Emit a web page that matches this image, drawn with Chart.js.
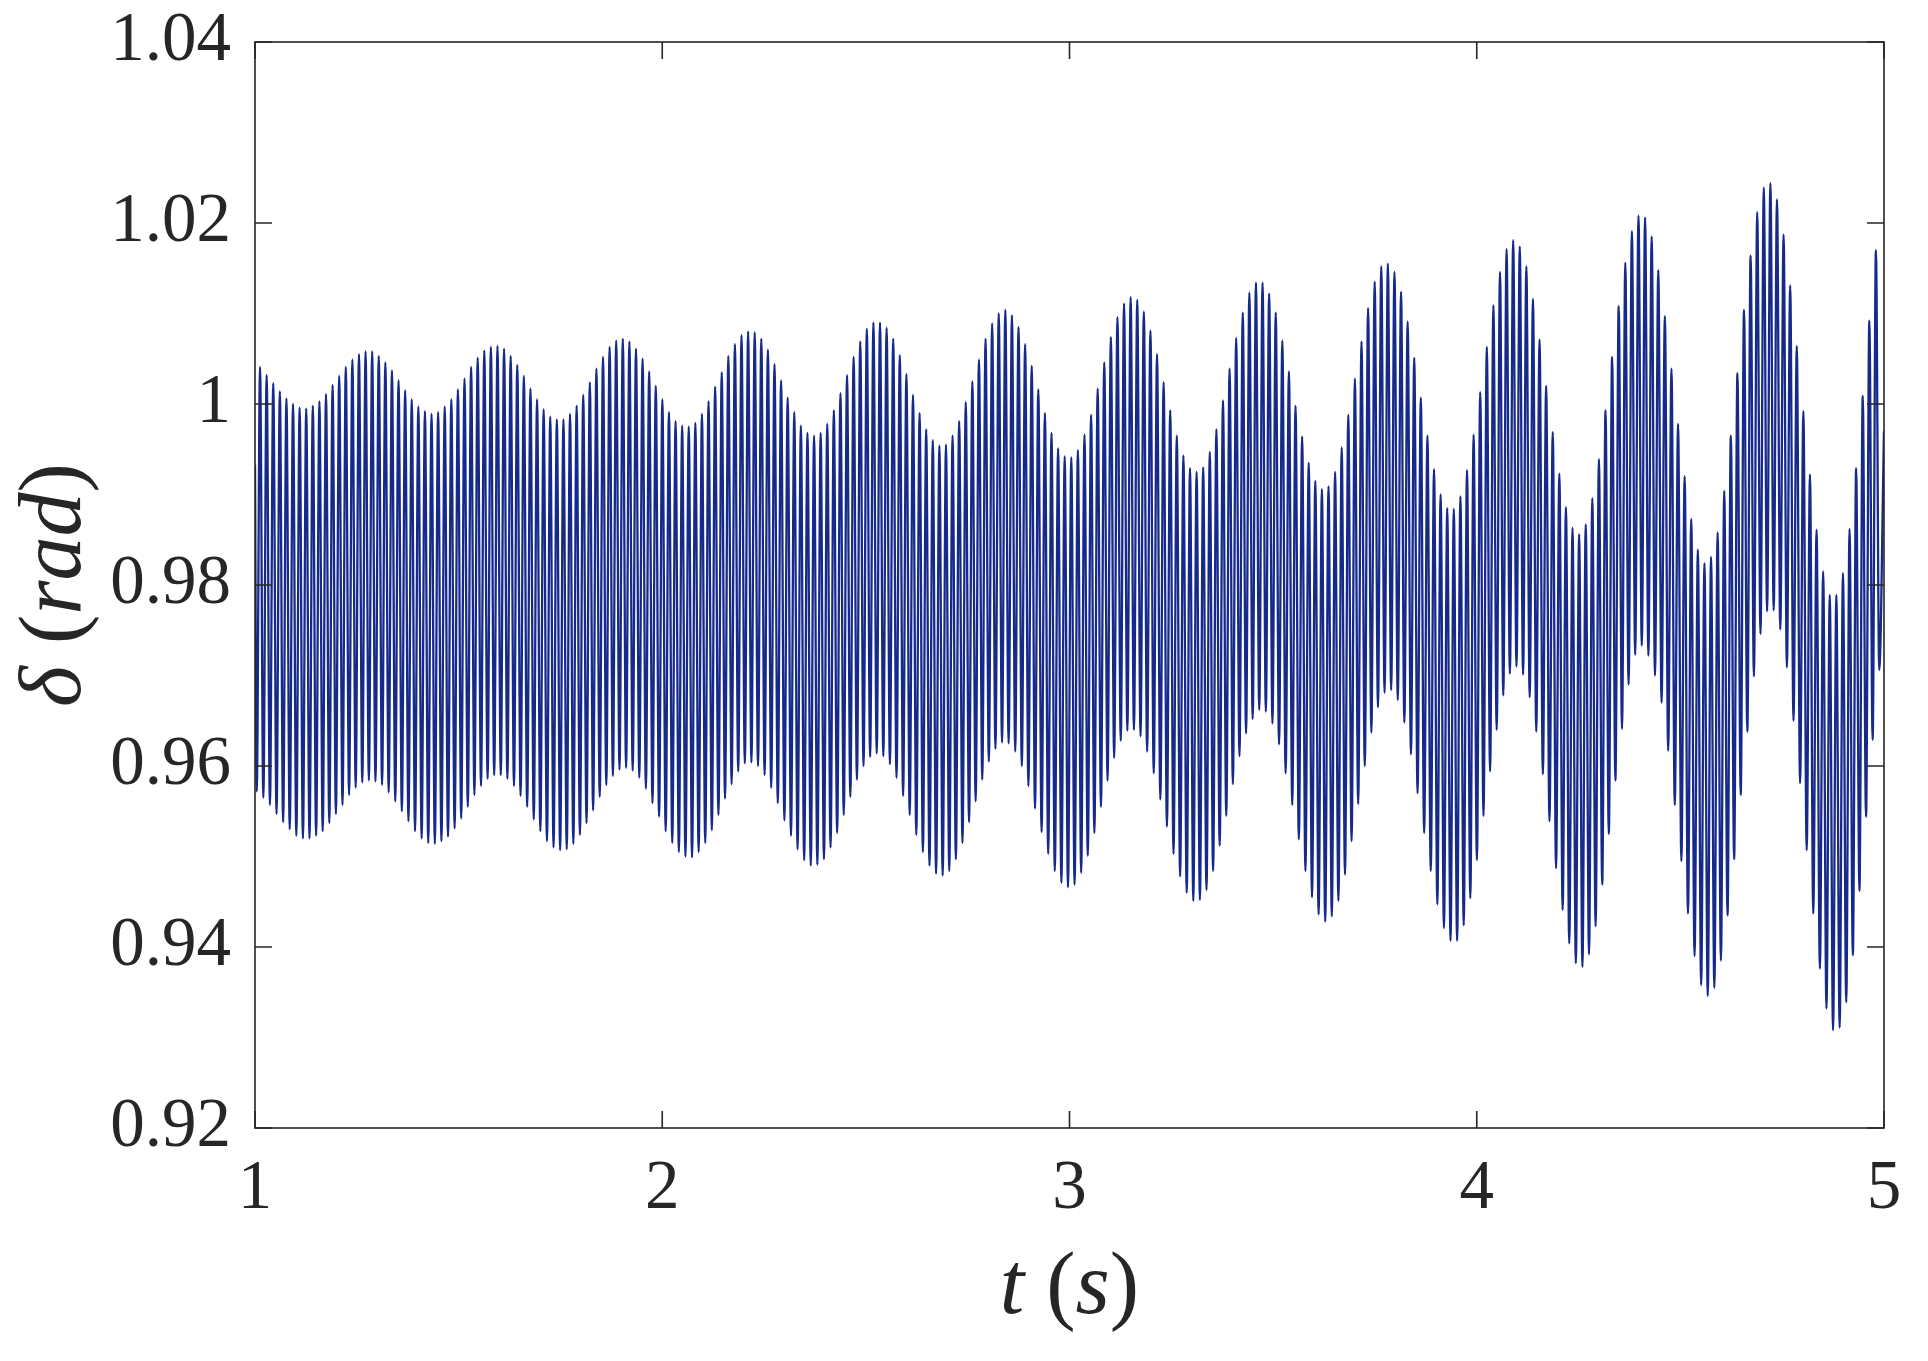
<!DOCTYPE html>
<html lang="en">
<head>
    <meta charset="UTF-8">
    <title>Rotor angle</title>
    <style>
        body { margin: 0; background: #FFFFFF; }
        #wrap { width: 1928px; height: 1361px; }
        canvas { display: block; }
    </style>
    <script src="https://cdn.jsdelivr.net/npm/chart.js"></script>
</head>
<body>
    <div id="wrap"><canvas id="deltaChart" width="1928" height="1361"></canvas></div>

    <script>
        // Time axis (s) and the regular sampling of the fast swing
        const startTime = 1.0;
        const endTime = 5.0;
        const firstTroughTime = 1.0043;
        const firstPeakTime = 1.0124;
        const cycle = 0.016195;
        const startValue = 0.9933;
        const endValue = 0.9970;

        // Delta (rad) at each local maximum
        const peakValues = [
            1.0041, 1.0032, 1.0023, 1.0014, 1.0006, 1.0000, 0.9996, 0.9995, 0.9998, 1.0003,
            1.0011, 1.0021, 1.0031, 1.0041, 1.0049, 1.0055, 1.0058, 1.0058, 1.0053, 1.0046,
            1.0037, 1.0026, 1.0015, 1.0005, 0.9997, 0.9992, 0.9989, 0.9991, 0.9997, 1.0005,
            1.0016, 1.0028, 1.0041, 1.0051, 1.0059, 1.0063, 1.0064, 1.0061, 1.0053, 1.0043,
            1.0031, 1.0017, 1.0005, 0.9994, 0.9986, 0.9983, 0.9983, 0.9989, 0.9998, 1.0010,
            1.0024, 1.0039, 1.0052, 1.0063, 1.0070, 1.0072, 1.0069, 1.0061, 1.0050, 1.0036,
            1.0020, 1.0005, 0.9991, 0.9981, 0.9976, 0.9975, 0.9979, 0.9989, 1.0003, 1.0019,
            1.0035, 1.0053, 1.0066, 1.0076, 1.0080,
            1.0079, 1.0072, 1.0060, 1.0044, 1.0026, 1.0007, 0.9991, 0.9976, 0.9968, 0.9965,
            0.9968, 0.9978, 0.9993, 1.0012, 1.0032, 1.0052, 1.0069, 1.0083, 1.0090, 1.0090,
            1.0084, 1.0072, 1.0054, 1.0033, 1.0010, 0.9990, 0.9972, 0.9960, 0.9954, 0.9955,
            0.9965, 0.9981, 1.0002, 1.0025, 1.0049, 1.0072, 1.0089, 1.0100, 1.0104, 1.0098,
            1.0085, 1.0066, 1.0042, 1.0016, 0.9990, 0.9968, 0.9951, 0.9942, 0.9941, 0.9949,
            0.9966, 0.9988, 1.0017, 1.0046, 1.0074, 1.0096, 1.0111, 1.0118, 1.0115, 1.0102,
            1.0081, 1.0055, 1.0024, 0.9993, 0.9965, 0.9943, 0.9929, 0.9925, 0.9930, 0.9947,
            0.9972, 1.0004, 1.0039, 1.0073, 1.0101, 1.0123,
            1.0134, 1.0134, 1.0122, 1.0101, 1.0070, 1.0036, 0.9998, 0.9964, 0.9935, 0.9915,
            0.9906, 0.9909, 0.9925, 0.9952, 0.9988, 1.0028, 1.0069, 1.0106, 1.0135, 1.0152,
            1.0155, 1.0146, 1.0124, 1.0091, 1.0051, 1.0007, 0.9965, 0.9928, 0.9900, 0.9885,
            0.9884, 0.9898, 0.9927, 0.9966, 1.0013, 1.0063, 1.0109, 1.0146, 1.0171, 1.0181,
            1.0174, 1.0152, 1.0116, 1.0071, 1.0020, 0.9969, 0.9923, 0.9886, 0.9863, 0.9856,
            0.9867, 0.9896, 0.9939, 0.9993, 1.0052, 1.0108, 1.0156, 1.0191, 1.0208, 1.0206,
            1.0185, 1.0148, 1.0097, 1.0039, 0.9978, 0.9920, 0.9873, 0.9839, 0.9824, 0.9831,
            0.9858, 0.9904, 0.9965, 1.0034, 1.0104,
            1.0164, 1.0212, 1.0239, 1.0244, 1.0226, 1.0187, 1.0131, 1.0064, 0.9992, 0.9922,
            0.9861, 0.9815, 0.9789, 0.9789, 0.9813, 0.9862, 0.9929, 1.0009, 1.0092, 1.0170
        ];

        // Delta (rad) at each local minimum
        const troughValues = [
            0.9572, 0.9565, 0.9557, 0.9547, 0.9538, 0.9530, 0.9523, 0.9520, 0.9520, 0.9523,
            0.9528, 0.9537, 0.9547, 0.9557, 0.9568, 0.9576, 0.9582, 0.9584, 0.9583, 0.9579,
            0.9571, 0.9561, 0.9550, 0.9539, 0.9528, 0.9520, 0.9515, 0.9514, 0.9517, 0.9522,
            0.9531, 0.9542, 0.9555, 0.9568, 0.9578, 0.9586, 0.9590, 0.9590, 0.9586, 0.9578,
            0.9567, 0.9555, 0.9541, 0.9528, 0.9517, 0.9510, 0.9507, 0.9508, 0.9514, 0.9524,
            0.9537, 0.9551, 0.9566, 0.9579, 0.9589, 0.9596, 0.9598, 0.9595, 0.9587, 0.9575,
            0.9559, 0.9544, 0.9528, 0.9515, 0.9505, 0.9500, 0.9499, 0.9505, 0.9515, 0.9529,
            0.9546, 0.9564, 0.9580, 0.9594, 0.9603,
            0.9604, 0.9600, 0.9590, 0.9576, 0.9559, 0.9540, 0.9523, 0.9508, 0.9496, 0.9490,
            0.9491, 0.9497, 0.9510, 0.9526, 0.9546, 0.9566, 0.9585, 0.9600, 0.9610, 0.9614,
            0.9611, 0.9602, 0.9587, 0.9567, 0.9546, 0.9524, 0.9505, 0.9490, 0.9481, 0.9479,
            0.9484, 0.9497, 0.9515, 0.9538, 0.9561, 0.9585, 0.9605, 0.9619, 0.9626, 0.9625,
            0.9616, 0.9600, 0.9578, 0.9553, 0.9527, 0.9503, 0.9484, 0.9471, 0.9466, 0.9469,
            0.9482, 0.9501, 0.9526, 0.9555, 0.9584, 0.9609, 0.9628, 0.9639, 0.9640, 0.9633,
            0.9616, 0.9592, 0.9563, 0.9533, 0.9503, 0.9478, 0.9460, 0.9451, 0.9452, 0.9463,
            0.9484, 0.9512, 0.9545, 0.9580, 0.9611, 0.9636,
            0.9652, 0.9662, 0.9660, 0.9647, 0.9624, 0.9592, 0.9557, 0.9519, 0.9484, 0.9455,
            0.9436, 0.9428, 0.9434, 0.9451, 0.9480, 0.9517, 0.9558, 0.9600, 0.9637, 0.9665,
            0.9681, 0.9684, 0.9673, 0.9648, 0.9613, 0.9570, 0.9526, 0.9484, 0.9447, 0.9421,
            0.9407, 0.9407, 0.9424, 0.9454, 0.9496, 0.9545, 0.9594, 0.9640, 0.9678, 0.9702,
            0.9710, 0.9701, 0.9676, 0.9638, 0.9591, 0.9539, 0.9487, 0.9441, 0.9404, 0.9382,
            0.9378, 0.9392, 0.9423, 0.9469, 0.9525, 0.9584, 0.9641, 0.9690, 0.9723, 0.9733,
            0.9722, 0.9700, 0.9670, 0.9617, 0.9557, 0.9495, 0.9437, 0.9390, 0.9358, 0.9346,
            0.9355, 0.9385, 0.9435, 0.9497, 0.9568, 0.9638,
            0.9699, 0.9746, 0.9771, 0.9772, 0.9751, 0.9709, 0.9650, 0.9581, 0.9507, 0.9437,
            0.9376, 0.9332, 0.9308, 0.9311, 0.9339, 0.9391, 0.9462, 0.9544, 0.9629, 0.9706
        ];

        // Tick values and labels
        const xTickValues = [1, 2, 3, 4, 5];
        const xTickLabels = ["1", "2", "3", "4", "5"];
        const yTickValues = [0.92, 0.94, 0.96, 0.98, 1.00, 1.02, 1.04];
        const yTickLabels = ["0.92", "0.94", "0.96", "0.98", "1", "1.02", "1.04"];

        const lineColor = "rgb(22, 42, 140)";
        const axisColor = "#262626";
        const fontFamily = '"Liberation Serif", "Times New Roman", serif';

        // Build the point table: trough, peak, trough, peak ...
        const points = [{ x: startTime, y: startValue }];
        troughValues.forEach((v, i) => {
            points.push({ x: firstTroughTime + i * cycle, y: v });
            if (i < peakValues.length) {
                points.push({ x: firstPeakTime + i * cycle, y: peakValues[i] });
            }
        });
        points.push({ x: endTime, y: endValue });

        // Box around the axes with inward ticks on all four sides
        const boxPlugin = {
            id: "box",
            afterDatasetsDraw(chart) {
                const { ctx, chartArea: a, scales } = chart;
                const tick = 17;
                ctx.save();
                ctx.strokeStyle = axisColor;
                ctx.lineWidth = 1.6;
                ctx.strokeRect(a.left, a.top, a.right - a.left, a.bottom - a.top);
                ctx.beginPath();
                xTickValues.forEach(v => {
                    const px = scales.x.getPixelForValue(v);
                    ctx.moveTo(px, a.bottom); ctx.lineTo(px, a.bottom - tick);
                    ctx.moveTo(px, a.top); ctx.lineTo(px, a.top + tick);
                });
                yTickValues.forEach(v => {
                    const py = scales.y.getPixelForValue(v);
                    ctx.moveTo(a.left, py); ctx.lineTo(a.left + tick, py);
                    ctx.moveTo(a.right, py); ctx.lineTo(a.right - tick, py);
                });
                ctx.stroke();
                ctx.restore();
            }
        };

        // Axis titles with italic symbols and upright brackets
        function drawPieces(ctx, pieces, size) {
            const widths = pieces.map(([txt, italic]) => {
                ctx.font = (italic ? "italic " : "") + size + "px " + fontFamily;
                return ctx.measureText(txt).width;
            });
            let x = -widths.reduce((s, w) => s + w, 0) / 2;
            pieces.forEach(([txt, italic], i) => {
                ctx.font = (italic ? "italic " : "") + size + "px " + fontFamily;
                ctx.fillText(txt, x, 0);
                x += widths[i];
            });
        }

        const titlePlugin = {
            id: "titles",
            afterDraw(chart) {
                const { ctx, chartArea: a } = chart;
                ctx.save();
                ctx.fillStyle = axisColor;
                ctx.textAlign = "left";
                ctx.textBaseline = "alphabetic";
                ctx.save();
                ctx.translate((a.left + a.right) / 2, 1313);
                drawPieces(ctx, [["t", true], [" (", false], ["s", true], [")", false]], 88);
                ctx.restore();
                ctx.save();
                ctx.translate(80, (a.top + a.bottom) / 2);
                ctx.rotate(-Math.PI / 2);
                drawPieces(ctx, [["\u03B4", true], [" (", false], ["rad", true], [")", false]], 88);
                ctx.restore();
                ctx.restore();
            }
        };

        // Drop the extra room Chart.js keeps for the end labels
        function noPadding(s) {
            s.paddingTop = 0;
            s.paddingBottom = 0;
            s.paddingLeft = 0;
            s.paddingRight = 0;
        }

        const ctx = document.getElementById("deltaChart").getContext("2d");
        new Chart(ctx, {
            type: "line",
            data: {
                datasets: [{
                    data: points,
                    borderColor: lineColor,
                    borderWidth: 2.3,
                    pointRadius: 0,
                    fill: false,
                    cubicInterpolationMode: "monotone"
                }]
            },
            options: {
                responsive: false,
                animation: false,
                devicePixelRatio: 1,
                layout: { padding: { left: 0, right: 44, top: 42, bottom: 0 } },
                plugins: {
                    legend: { display: false },
                    tooltip: { enabled: false }
                },
                scales: {
                    x: {
                        type: "linear",
                        min: 1,
                        max: 5,
                        afterBuildTicks: s => { s.ticks = xTickValues.map(v => ({ value: v })); },
                        afterFit: s => { s.height = 233; noPadding(s); },
                        grid: { display: false, drawTicks: false },
                        border: { display: false },
                        ticks: {
                            padding: 20,
                            color: axisColor,
                            font: { family: fontFamily, size: 69 },
                            callback: (v, i) => xTickLabels[i]
                        }
                    },
                    y: {
                        type: "linear",
                        min: 0.92,
                        max: 1.04,
                        afterBuildTicks: s => { s.ticks = yTickValues.map(v => ({ value: v })); },
                        afterFit: s => { s.width = 255; noPadding(s); },
                        grid: { display: false, drawTicks: false },
                        border: { display: false },
                        ticks: {
                            padding: 24,
                            color: axisColor,
                            font: { family: fontFamily, size: 69 },
                            callback: (v, i) => yTickLabels[i]
                        }
                    }
                }
            },
            plugins: [boxPlugin, titlePlugin]
        });
    </script>
</body>
</html>
